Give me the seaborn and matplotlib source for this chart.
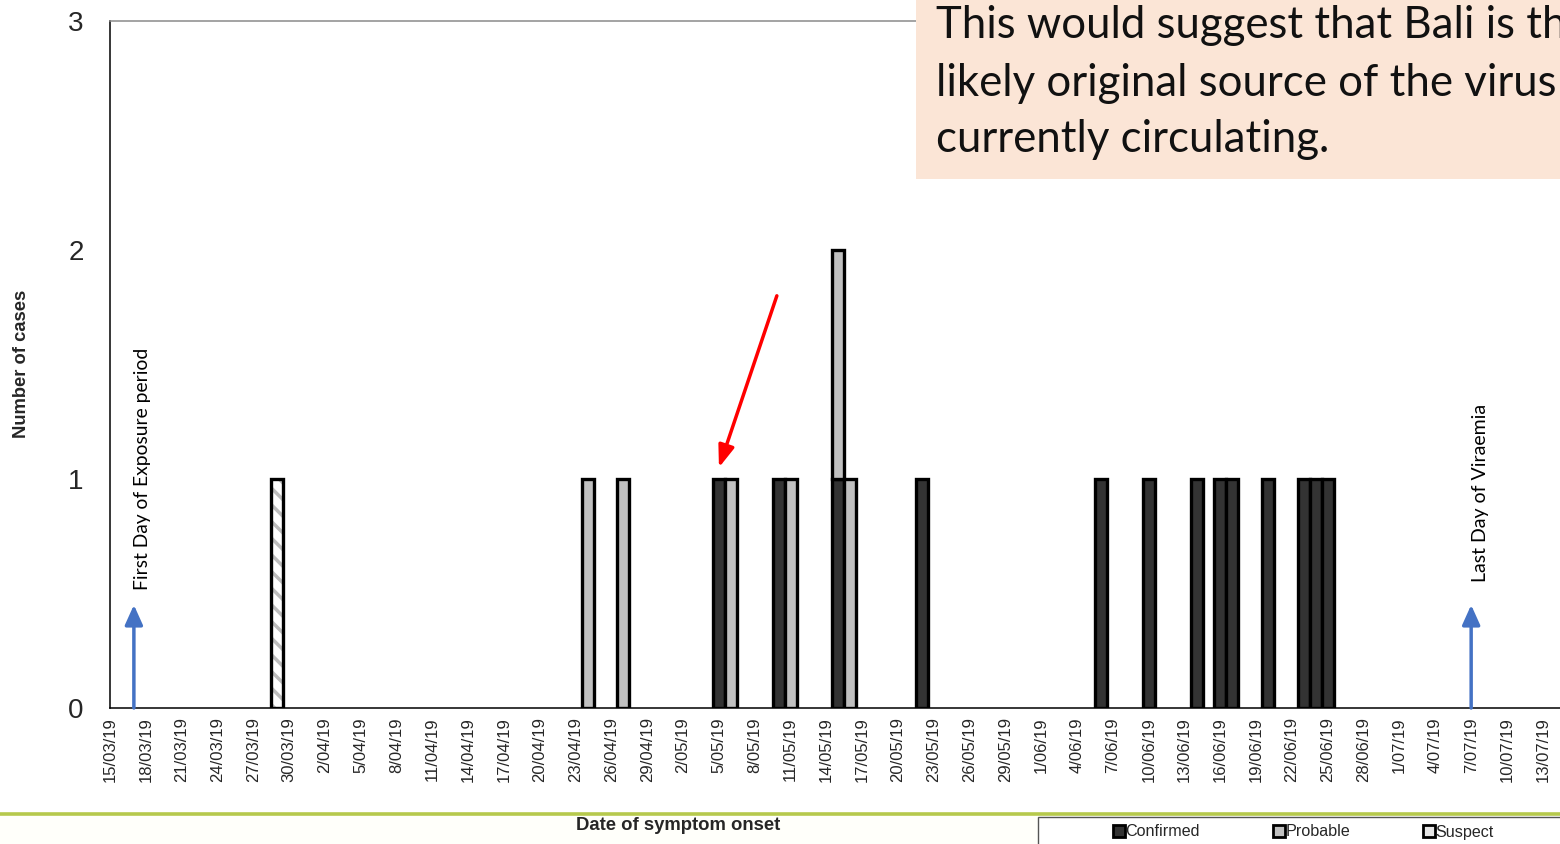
import matplotlib
matplotlib.use("Agg")
import matplotlib.pyplot as plt
import matplotlib.colors as mcolors
from matplotlib.lines import Line2D
from matplotlib.patches import Rectangle
import numpy as np
import pandas as pd
import seaborn as sns

# ---------------- data ----------------
axis_start = "2019-03-15"
axis_end = "2019-07-13"
confirmed_dates = ["2019-05-05", "2019-05-10", "2019-05-15", "2019-05-22",
                   "2019-06-06", "2019-06-10", "2019-06-14", "2019-06-16",
                   "2019-06-17", "2019-06-20", "2019-06-23", "2019-06-24",
                   "2019-06-25"]
confirmed_counts = [1] * len(confirmed_dates)
probable_dates = ["2019-04-24", "2019-04-27", "2019-05-06", "2019-05-11",
                  "2019-05-15", "2019-05-16"]
probable_counts = [1] * len(probable_dates)
suspect_dates = ["2019-03-29"]
suspect_counts = [1]
status_labels = ["Confirmed", "Probable", "Suspect"]
status_colors = {"Confirmed": "#333333", "Probable": "#c0c0c0", "Suspect": "#ffffff"}
first_exposure_date = "2019-03-17"
last_viraemia_date = "2019-07-07"
y_ticks = [0, 1, 2, 3]
box_lines = ["This would suggest that Bali is the",
             "likely original source of the virus",
             "currently circulating."]

# ---------------- prepare ----------------
start = pd.Timestamp(axis_start)
def day(d):
    return (pd.Timestamp(d) - start).days

rows = []
for lab, dates, counts in zip(status_labels,
                              [confirmed_dates, probable_dates, suspect_dates],
                              [confirmed_counts, probable_counts, suspect_counts]):
    for d, c in zip(dates, counts):
        rows.append({"day": day(d), "status": lab, "count": c})
df = pd.DataFrame(rows)

tick_dates = pd.date_range(axis_start, axis_end, freq="3D")
tick_pos = [day(d) for d in tick_dates]
tick_labels = [f"{d.day}/{d.month:02d}/{d.strftime('%y')}" for d in tick_dates]

# ---------------- figure ----------------
sns.set_theme(style="white")
plt.rcParams["font.family"] = ["Liberation Sans", "DejaVu Sans"]
plt.rcParams["hatch.linewidth"] = 2.5

W, H = 1560, 844
fig = plt.figure(figsize=(W / 100, H / 100), dpi=100)
fig.patch.set_facecolor("white")
px_per_day = 11.94
ax = fig.add_axes([110 / W, 136 / H, 1450 / W, 687 / H])

sns.histplot(data=df, x="day", weights="count", hue="status",
             hue_order=["Suspect", "Probable", "Confirmed"],
             multiple="stack", discrete=True, shrink=1.0,
             palette=status_colors, edgecolor="black", linewidth=2.4,
             alpha=1, legend=False, ax=ax, zorder=3)

for p in list(ax.patches):
    if p.get_height() == 0:
        p.remove()
        continue
    fc = mcolors.to_hex(p.get_facecolor())
    if fc == "#ffffff":
        p.set_hatch("\\\\")
        p._hatch_color = mcolors.to_rgba("#bdbdbd")

ax.set_xlim(0, 1450 / px_per_day)
ax.set_ylim(0, 3)
ax.set_yticks(y_ticks)
ax.set_yticklabels([str(v) for v in y_ticks], fontsize=20)
ax.set_xticks(tick_pos)
ax.set_xticklabels(tick_labels, rotation=90, fontsize=12)
ax.set_xlabel("")
ax.set_ylabel("")
ax.tick_params(axis="x", direction="inout", length=9, width=1, color="black", pad=2)
ax.tick_params(axis="y", direction="out", length=8, width=1, color="black", pad=11)
for s in ["left", "bottom"]:
    ax.spines[s].set_color("black")
    ax.spines[s].set_linewidth(1.1)
ax.spines["top"].set_color("#8a8a8a")
ax.spines["top"].set_linewidth(1.1)
ax.spines["right"].set_visible(False)
ax.grid(False)

# blue arrows + labels
blue = "#4472c4"
for d, txt, dx, y0, fs in [(first_exposure_date, "First Day of Exposure period", 0.7, 0.515, 13.9),
                           (last_viraemia_date, "Last Day of Viraemia", 0.75, 0.55, 14.0)]:
    x = day(d)
    ax.annotate("", xy=(x, 0.45), xytext=(x, 0.0),
                arrowprops=dict(arrowstyle="-|>,head_length=1.0,head_width=0.45",
                                color=blue, lw=2.5, shrinkA=0, shrinkB=0),
                zorder=4)
    ax.text(x + dx, y0, txt, rotation=90, ha="center", va="bottom",
            fontsize=fs, family=["Lato", "DejaVu Sans"], color="black")

# red arrow
ax.annotate("", xy=(51.0, 1.05), xytext=(55.85, 1.80),
            arrowprops=dict(arrowstyle="-|>,head_length=1.1,head_width=0.4",
                            color="#ff0000", lw=2.5, shrinkA=0, shrinkB=0),
            zorder=5)

# axis titles
fig.text(22 / W, 1 - 364 / H, "Number of cases", rotation=90, ha="center",
         va="center", fontsize=13.2, fontweight="bold")
fig.text(678 / W, 1 - 825 / H, "Date of symptom onset", ha="center",
         va="center", fontsize=13.3, fontweight="bold")

# annotation box
fig.add_artist(Rectangle((916 / W, 1 - 179 / H), 1 - 916 / W, 179 / H,
                         transform=fig.transFigure, facecolor="#fbe5d6",
                         edgecolor="none", zorder=10))
for i, line in enumerate(box_lines):
    fig.text(936 / W, 1 - (26 + 57 * i) / H, line, ha="left", va="center",
             fontsize=31.5, family=["Lato", "DejaVu Sans"], color="#111111",
             zorder=11)

# bottom band
fig.add_artist(Rectangle((0, 0), 1, 1 - 815 / H, transform=fig.transFigure,
                         facecolor="#fffffa", edgecolor="none", zorder=0))
fig.add_artist(Line2D([0, 1], [1 - 814 / H] * 2, transform=fig.transFigure,
                      color="#b6c94c", lw=2.6, zorder=1))
fig.add_artist(Rectangle((1038 / W, -0.02), 1, 1 - 817 / H + 0.02,
                         transform=fig.transFigure, facecolor="white",
                         edgecolor="#555555", lw=1.0, zorder=2))

handles = [Line2D([], [], marker="s", linestyle="", markersize=8,
                  markerfacecolor=c, markeredgecolor="black", markeredgewidth=2)
           for c in ["#333333", "#c0c0c0", "#e6e6e6"]]
leg = fig.legend(handles, status_labels, ncol=3, loc="center left",
                 bbox_to_anchor=(1106 / W, 1 - 832 / H), frameon=False,
                 fontsize=11.6, handlelength=0.6, handletextpad=0.1,
                 columnspacing=4.6, borderpad=0)
leg.set_zorder(3)

fig.savefig("out.png", dpi=100)
